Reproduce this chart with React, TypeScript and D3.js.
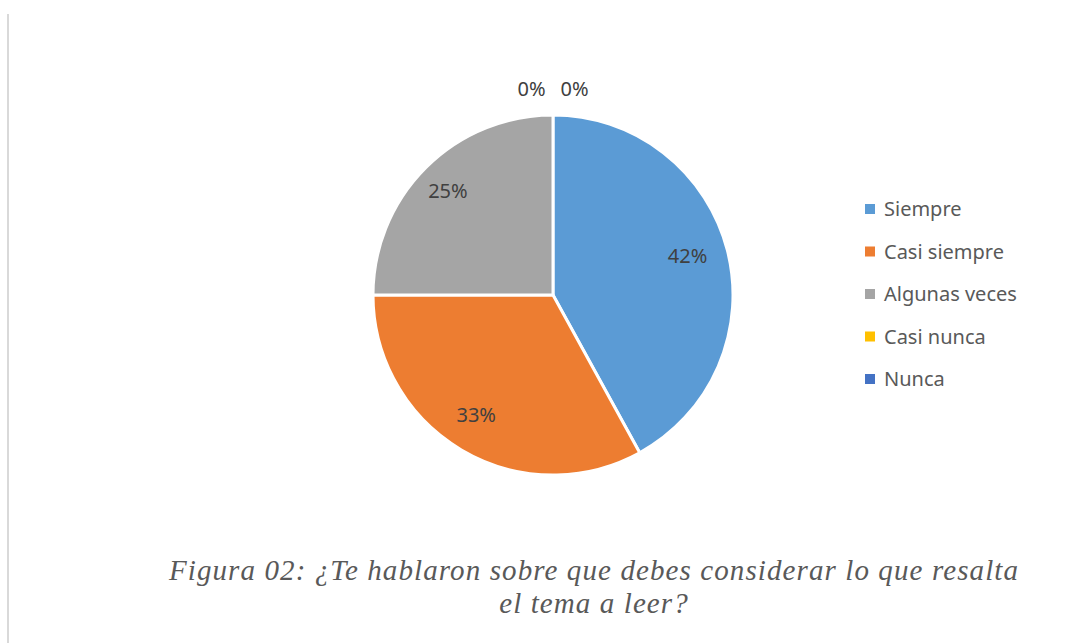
import React, { useEffect, useRef } from "react";
import * as d3 from "d3";

const categories = ["Siempre", "Casi siempre", "Algunas veces", "Casi nunca", "Nunca"];
const values = [42, 33, 25, 0, 0];
const colors = ["#5B9BD5", "#ED7D31", "#A5A5A5", "#FFC000", "#4472C4"];
const captionLines = [
  "Figura 02: ¿Te hablaron sobre que debes considerar lo que resalta",
  "el tema a leer?",
];

export default function App() {
  const ref = useRef<SVGSVGElement>(null);

  useEffect(() => {
    const w = 1091;
    const h = 643;
    const cx = 553;
    const cy = 295;
    const r = 180;

    const svg = d3.select(ref.current);
    svg.selectAll("*").remove();

    // left frame line
    svg.append("rect")
      .attr("x", 7)
      .attr("y", 14)
      .attr("width", 2)
      .attr("height", h - 14)
      .attr("fill", "#d9d9d9");

    const data = categories.map((c, i) => ({ name: c, value: values[i], color: colors[i] }));

    const pie = d3.pie<any>()
      .value(d => d.value)
      .sort(null);
    const arcs = pie(data);

    const arc = d3.arc<any>().innerRadius(0).outerRadius(r);
    const labelArc = d3.arc<any>().innerRadius(143).outerRadius(143);

    const g = svg.append("g").attr("transform", "translate(" + cx + "," + cy + ")");

    g.selectAll("path")
      .data(arcs.filter(a => a.value > 0))
      .enter()
      .append("path")
      .attr("d", arc)
      .attr("fill", d => d.data.color)
      .attr("stroke", "#fff")
      .attr("stroke-width", 3)
      .attr("stroke-linejoin", "round");

    // labels for non-zero slices
    g.selectAll("text.lbl")
      .data(arcs.filter(a => a.value > 0))
      .enter()
      .append("text")
      .attr("class", "lbl")
      .attr("x", d => labelArc.centroid(d)[0] - 4)
      .attr("y", d => labelArc.centroid(d)[1] - 3)
      .attr("dy", "0.35em")
      .attr("text-anchor", "middle")
      .attr("font-family", "'Noto Sans', sans-serif")
      .attr("font-size", 20)
      .attr("fill", "#404040")
      .text(d => Math.round(d.value) + "%");

    // zero slices get their labels outside, at the top
    const zeros = arcs.filter(a => a.value === 0);
    g.selectAll("text.zero")
      .data(zeros)
      .enter()
      .append("text")
      .attr("class", "zero")
      .attr("x", (d, i) => (i - (zeros.length - 1) / 2) * 43)
      .attr("y", -r - 19)
      .attr("text-anchor", "middle")
      .attr("font-family", "'Noto Sans', sans-serif")
      .attr("font-size", 20)
      .attr("fill", "#404040")
      .text(d => d.value + "%");

    // legend
    const legend = svg.append("g").attr("transform", "translate(865,209)");
    const row = legend.selectAll("g")
      .data(data)
      .enter()
      .append("g")
      .attr("transform", (d, i) => "translate(0," + i * 42.5 + ")");
    row.append("rect")
      .attr("x", 0)
      .attr("y", -5)
      .attr("width", 10)
      .attr("height", 10)
      .attr("fill", d => d.color);
    row.append("text")
      .attr("x", 19)
      .attr("dy", "0.35em")
      .attr("font-family", "'Noto Sans', sans-serif")
      .attr("font-size", 20)
      .attr("fill", "#595959")
      .text(d => d.name);

    // caption
    svg.selectAll("text.cap")
      .data(captionLines)
      .enter()
      .append("text")
      .attr("class", "cap")
      .attr("x", 594)
      .attr("y", (d, i) => 580 + i * 33)
      .attr("text-anchor", "middle")
      .attr("font-family", "'Liberation Serif', 'Times New Roman', serif")
      .attr("font-style", "italic")
      .attr("font-size", 29)
      .attr("letter-spacing", 1.1)
      .attr("fill", "#595959")
      .text(d => d);
  }, []);

  return (
    <svg
      ref={ref}
      width={1091}
      height={643}
      style={{ position: "absolute", left: 0, top: 0, background: "#fff" }}
    />
  );
}
